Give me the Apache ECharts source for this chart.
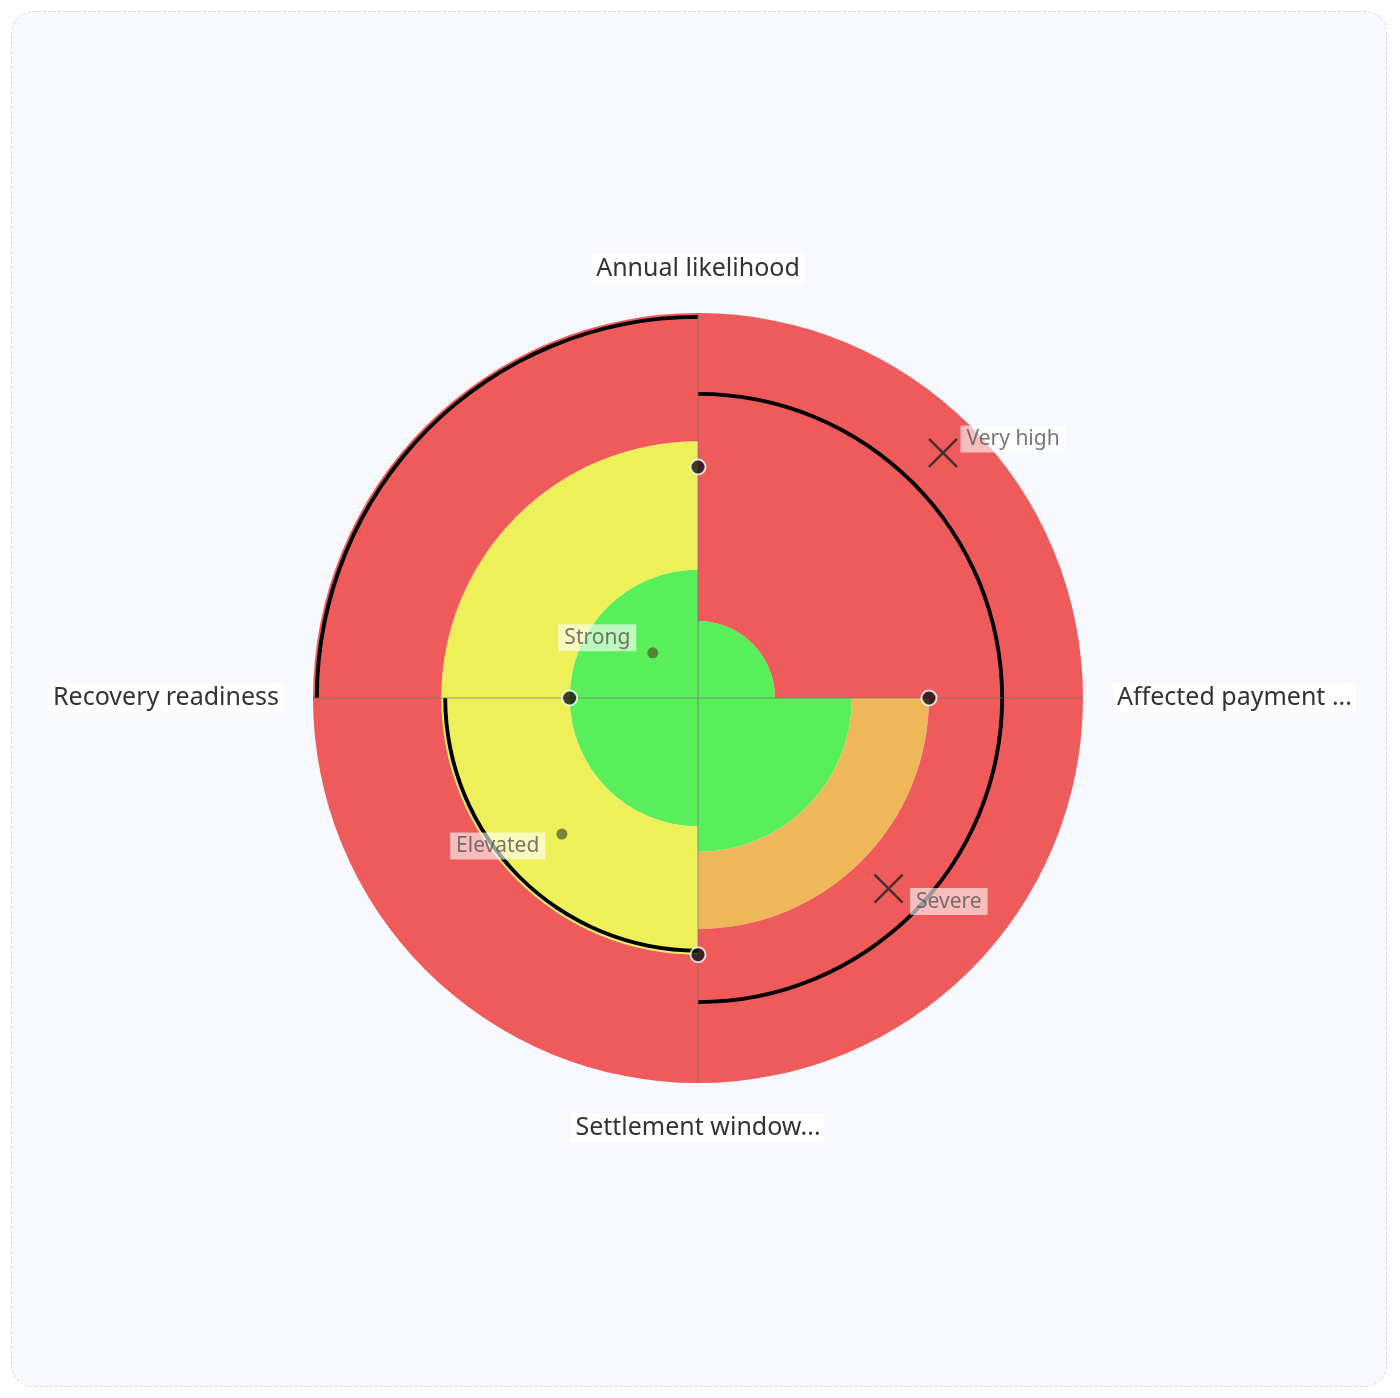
<!DOCTYPE html>
<html><head><meta charset="utf-8">
<script src="https://cdn.jsdelivr.net/npm/echarts@6/dist/echarts.min.js"></script>
<style>
html,body{margin:0;padding:0;background:#fff;}
#wrap{position:absolute;left:11px;top:11px;width:1374px;height:1374px;border:1.5px dashed #d6d9e0;border-radius:22px;background:#f8f9fe;}
#c{position:absolute;left:0;top:0;width:1400px;height:1398px;}
</style></head>
<body><div id="wrap"></div><div id="c"></div>
<script>
const categories = ["Annual likelihood", "Affected payment ...", "Settlement window...", "Recovery readiness"];
const greenBand  = [1, 2, 1.667, 1.667];
const orangeBand = [0, 1, 0, 0];
const yellowBand = [0, 0, 1.667, 1.667];
const redBand    = [4, 2, 1.667, 1.667];
const thresholds = [4, 4, 3.333, 5];
const scores     = [3, 3, 3.333, 1.667];
const notes = [
  {name: "Very high", r: 4.5, cat: 0, kind: "x"},
  {name: "Severe", r: 3.5, cat: 1, kind: "x"},
  {name: "Elevated", r: 2.5, cat: 2, kind: "dot"},
  {name: "Strong", r: 0.83, cat: 3, kind: "dot"}
];
const ARC_W = 0.05;

const chart = echarts.init(document.getElementById('c'));
const center = [698, 698], radius = 385;
const bar = (name, data, color) => ({
  type: 'bar', coordinateSystem: 'polar', polarIndex: 0, name, data, stack: 'zones',
  barCategoryGap: '0%', barGap: '-100%', itemStyle: {color}, silent: true, z: 2
});
const labelOffsets = {"Very high": ['right', [-4, -14]], "Severe": ['right', [0, 13]], "Elevated": ['left', [-6, 12]], "Strong": ['left', [-6, -15]]};
chart.setOption({
  animation: false,
  polar: [{center, radius}, {center, radius}],
  angleAxis: [
    {polarIndex: 0, type: 'category', data: categories, startAngle: 90, clockwise: true,
     axisLine: {show: false}, axisTick: {show: false}, axisLabel: {show: false}, splitLine: {show: false}},
    {polarIndex: 1, type: 'category', data: categories, boundaryGap: false, startAngle: 90, clockwise: true, z: 5,
     axisLine: {show: false}, axisTick: {show: false},
     splitLine: {show: true, lineStyle: {color: 'rgba(110,110,110,0.45)', width: 1.5}},
     axisLabel: {margin: 30, fontSize: 25, color: '#333', fontFamily: 'Noto Sans', backgroundColor: 'rgba(255,255,255,0.9)', padding: [2, 4]}}
  ],
  radiusAxis: [
    {polarIndex: 0, min: 0, max: 5, axisLine: {show: false}, axisTick: {show: false}, axisLabel: {show: false}, splitLine: {show: false}},
    {polarIndex: 1, min: 0, max: 5, axisLine: {show: false}, axisTick: {show: false}, axisLabel: {show: false}, splitLine: {show: false}}
  ],
  series: [
    bar('green', greenBand, '#58ef5a'),
    bar('orange', orangeBand, '#eeb85a'),
    bar('yellow', yellowBand, '#eef05a'),
    bar('red', redBand, '#ef5a5a'),
    {type: 'bar', coordinateSystem: 'polar', polarIndex: 0, stack: 'arc', barGap: '-100%', barCategoryGap: '0%',
     data: thresholds.map(t => t - ARC_W * 1.5), itemStyle: {color: 'rgba(0,0,0,0)'}, silent: true, z: 3},
    {type: 'bar', coordinateSystem: 'polar', polarIndex: 0, stack: 'arc', barGap: '-100%', barCategoryGap: '0%',
     data: thresholds.map(() => ARC_W), itemStyle: {color: '#000'}, silent: true, z: 3},
    {type: 'scatter', coordinateSystem: 'polar', polarIndex: 1, z: 10,
     data: scores.map((r, i) => [r, i]), symbolSize: 15,
     itemStyle: {color: '#111', borderColor: '#fff', borderWidth: 2}},
    {type: 'scatter', coordinateSystem: 'polar', polarIndex: 0, z: 10,
     data: notes.map(n => ({
       value: [n.r, n.cat], name: n.name,
       symbol: n.kind === 'x' ? 'path://M0,0L10,10M10,0L0,10' : 'circle',
       symbolSize: n.kind === 'x' ? 28 : 11,
       itemStyle: n.kind === 'x' ? {color: 'none', borderColor: '#222', borderWidth: 2.5} : {color: '#556b2f'},
       label: {show: true, formatter: n.name, position: labelOffsets[n.name][0], offset: labelOffsets[n.name][1],
         fontSize: 21, color: '#555', fontFamily: 'Noto Sans', backgroundColor: 'rgba(255,255,255,0.75)', padding: [3, 6]}
     }))}
  ]
});
</script></body></html>
